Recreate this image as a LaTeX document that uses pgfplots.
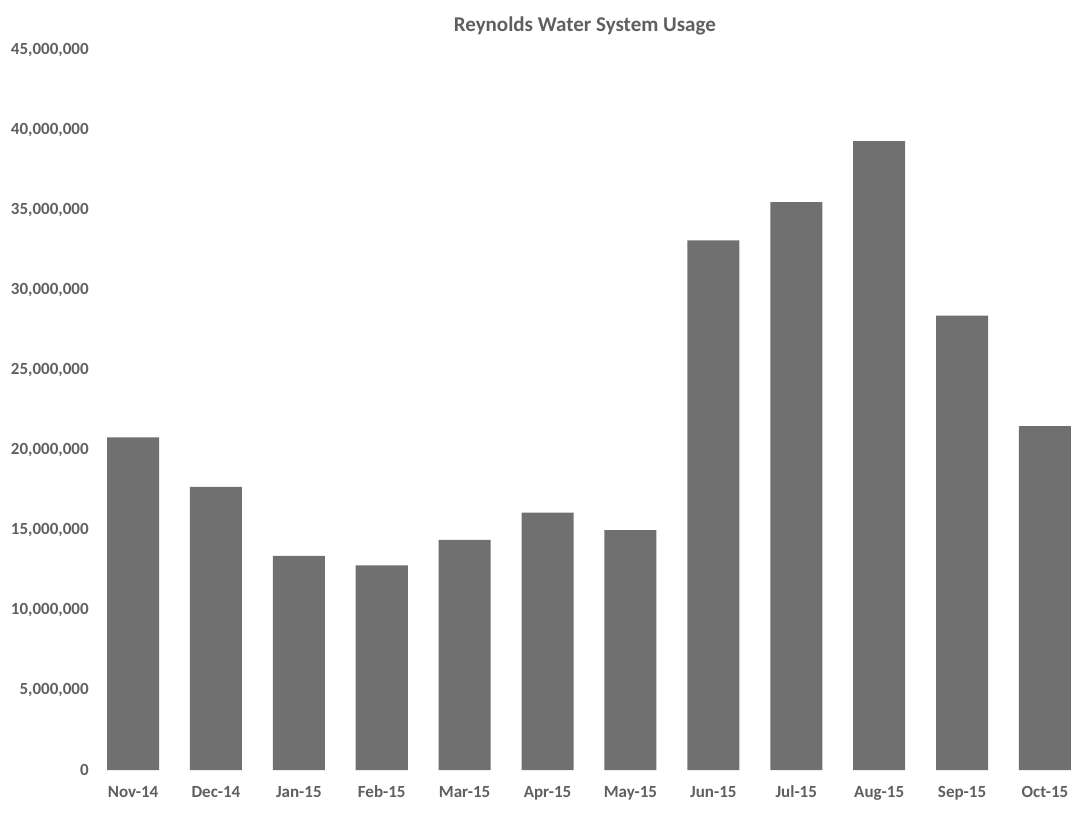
\documentclass[border=0pt]{standalone}
\usepackage{fontspec}
\setmainfont{Carlito}
\usepackage{pgfplots}
\pgfplotsset{compat=1.18}
\definecolor{barg}{RGB}{112,112,112}
\definecolor{txtg}{RGB}{95,95,95}
\begin{document}
\begin{tikzpicture}
\begin{axis}[
  scale only axis,
  width=489pt, height=360pt,
  xmin=-0.45, xmax=11.35,
  ymin=0, ymax=45000000,
  ytick={0,5000000,10000000,15000000,20000000,25000000,30000000,35000000,40000000,45000000},
  yticklabel style={/pgf/number format/.cd,fixed,1000 sep={,},assume math mode=true},
  scaled y ticks=false,
  xtick=data,
  xticklabels={Nov-14,Dec-14,Jan-15,Feb-15,Mar-15,Apr-15,May-15,Jun-15,Jul-15,Aug-15,Sep-15,Oct-15},
  tick label style={font=\fontsize{8.5}{10}\selectfont\bfseries, text=txtg},
  xticklabel style={yshift=-3pt, text height=7pt, text depth=2pt},
  axis line style={draw=none},
  major tick length=0pt,
  ybar, bar width=26pt,
  title={Reynolds Water System Usage},
  title style={font=\fontsize{10.5}{12}\selectfont\bfseries, text=txtg, yshift=-2pt},
  clip=false,
]
\addplot[fill=barg, draw=none] coordinates {
(0,20800000) (1,17700000) (2,13400000) (3,12800000) (4,14400000) (5,16100000)
(6,15000000) (7,33100000) (8,35500000) (9,39300000) (10,28400000) (11,21500000)};
\end{axis}
\pgfresetboundingbox
\useasboundingbox (-47.85pt,-33pt) rectangle (488.5pt,385pt);
\end{tikzpicture}
\end{document}
